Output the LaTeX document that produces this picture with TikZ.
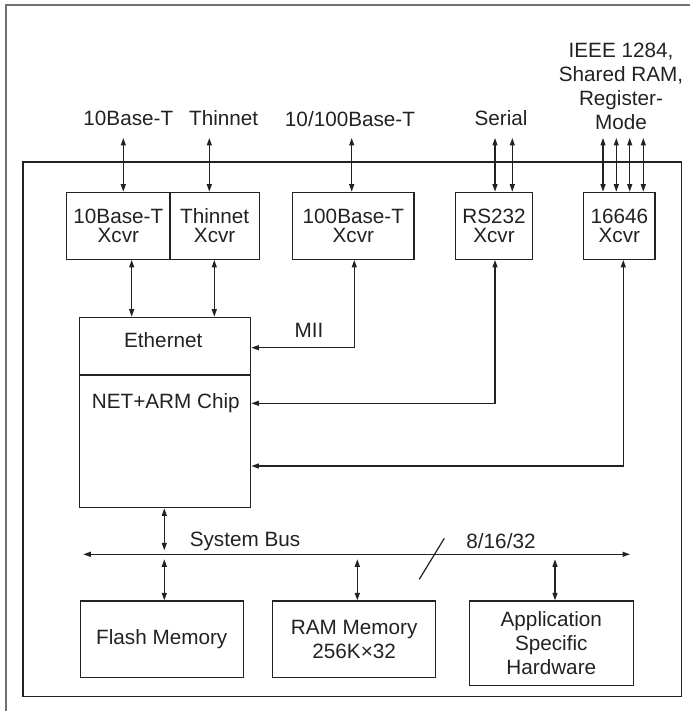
\documentclass[tikz,border=0pt]{standalone}
\usepackage{fontspec}
\setmainfont{Liberation Sans}
\usetikzlibrary{arrows.meta}
\definecolor{ink}{HTML}{222222}
\definecolor{frame}{HTML}{707070}
\newcommand\labfont{\fontsize{20.7}{24}\selectfont}
\newcommand\xcvrfont{\fontsize{20.7}{19}\selectfont}
\tikzset{
  box/.style={draw=ink, line width=1.3pt, inner sep=0pt, align=center, font=\labfont, text=ink},
  xbox/.style={box, font=\xcvrfont, minimum height=67pt},
  lbl/.style={inner sep=0pt, font=\labfont, text=ink, anchor=base},
  conn/.style={draw=ink, line width=1.2pt, {Triangle[length=7.5pt,width=5pt]}-{Triangle[length=7.5pt,width=5pt]}},
}
\begin{document}
\begin{tikzpicture}[x=1pt,y=-1pt]
\useasboundingbox (0,0) rectangle (690,711);
% outer frame (only top and left edges visible)
\coordinate (f1) at (5.7,711);
\coordinate (f2) at (5.7,5.3);
\coordinate (f3) at (690,5.3);
\draw[frame, line width=2pt] (f1) -- (f2) -- (f3);
% inner board
\draw[ink, line width=1.3pt] (23,162) rectangle (681.7,696.7);

% transceivers
\node[xbox, minimum width=103.3pt] (x10) at (118.35,225.8) {10Base-T\\Xcvr};
\node[xbox, minimum width=89.3pt] (thin) at (214.65,225.8) {Thinnet\\Xcvr};
\node[xbox, minimum width=121.3pt] (x100) at (353.35,225.8) {100Base-T\\Xcvr};
\node[xbox, minimum width=77.4pt] (rs) at (494,225.8) {RS232\\Xcvr};
\node[xbox, minimum width=71.3pt] (x16) at (619.35,225.8) {16646\\Xcvr};

% chip
\node[box, minimum width=171.4pt, minimum height=57.7pt] (eth) at (165,346.15) {};
\node[box, minimum width=171.4pt, minimum height=132.7pt] (chip) at (165,441.35) {};
\node[lbl] (leth) at (163.3,347.7) {Ethernet};
\node[lbl] (lchip) at (165.8,408.3) {NET+ARM Chip};

% memories
\node[box, minimum width=163pt, minimum height=76.3pt] (flash) at (161.8,639.15) {Flash Memory};
\node[box, minimum width=163.3pt, minimum height=76.3pt] (ram) at (354.15,639.15) {RAM Memory\\256K×32};
\node[box, minimum width=164pt, minimum height=84.3pt] (app) at (551.3,643.15) {Application\\Specific\\Hardware};

% external labels
\node[lbl] (l10) at (128.3,126) {10Base-T};
\node[lbl] (lthin) at (223.7,126) {Thinnet};
\node[lbl] (l100) at (350,126.5) {10/100Base-T};
\node[lbl] (lser) at (501,126) {Serial};
\node[lbl, anchor=center, align=center] (lieee) at (621,86.4) {IEEE 1284,\\Shared RAM,\\Register-\\Mode};

% top connectors
\coordinate (t1) at (123.3,138);
\coordinate (t2) at (209.3,138);
\coordinate (t3) at (351.7,138);
\coordinate (t4) at (495,138);
\coordinate (t5) at (512.3,138);
\coordinate (t6) at (603,138);
\coordinate (t7) at (616.3,138);
\coordinate (t8) at (629.7,138);
\coordinate (t9) at (643.3,138);
\draw[conn] (t1) -- (t1 |- x10.north);
\draw[conn] (t2) -- (t2 |- thin.north);
\draw[conn] (t3) -- (t3 |- x100.north);
\draw[conn] (t4) -- (t4 |- rs.north);
\draw[conn] (t5) -- (t5 |- rs.north);
\draw[conn] (t6) -- (t6 |- x16.north);
\draw[conn] (t7) -- (t7 |- x16.north);
\draw[conn] (t8) -- (t8 |- x16.north);
\draw[conn] (t9) -- (t9 |- x16.north);

% xcvr to ethernet
\coordinate (v1) at (131.7,0);
\coordinate (v2) at (214.3,0);
\draw[conn] (v1 |- x10.south) -- (v1 |- eth.north);
\draw[conn] (v2 |- thin.south) -- (v2 |- eth.north);

% MII, RS232, 16646 to chip
\coordinate (mii) at (354.3,347.7);
\coordinate (rsc) at (495,403.3);
\coordinate (pc) at (623.3,466);
\draw[conn] (mii |- x100.south) |- (eth.east |- mii);
\draw[conn] (rsc |- rs.south) |- (chip.east |- rsc);
\draw[conn] (pc |- x16.south) |- (chip.east |- pc);
\node[lbl] (lmii) at (309,337.3) {MII};

% system bus
\coordinate (busL) at (83.3,554.3);
\coordinate (busR) at (630,554.3);
\draw[conn] (busL) -- (busR);
\node[lbl] (lbus) at (245,546.7) {System Bus};
\node[lbl] (lw) at (501,548.3) {8/16/32};
\coordinate (s1) at (419.3,579.3);
\coordinate (s2) at (444.3,538.3);
\draw[ink, line width=1.2pt] (s1) -- (s2);

\coordinate (cb) at (164.3,0);
\coordinate (cr) at (357.3,0);
\coordinate (ca) at (555,0);
\draw[conn, shorten >=4pt] (cb |- chip.south) -- (cb |- busL);
\draw[conn, shorten <=5pt] (cb |- busL) -- (cb |- flash.north);
\draw[conn, shorten <=5pt] (cr |- busL) -- (cr |- ram.north);
\draw[conn, shorten <=5pt] (ca |- busL) -- (ca |- app.north);
\end{tikzpicture}
\end{document}
